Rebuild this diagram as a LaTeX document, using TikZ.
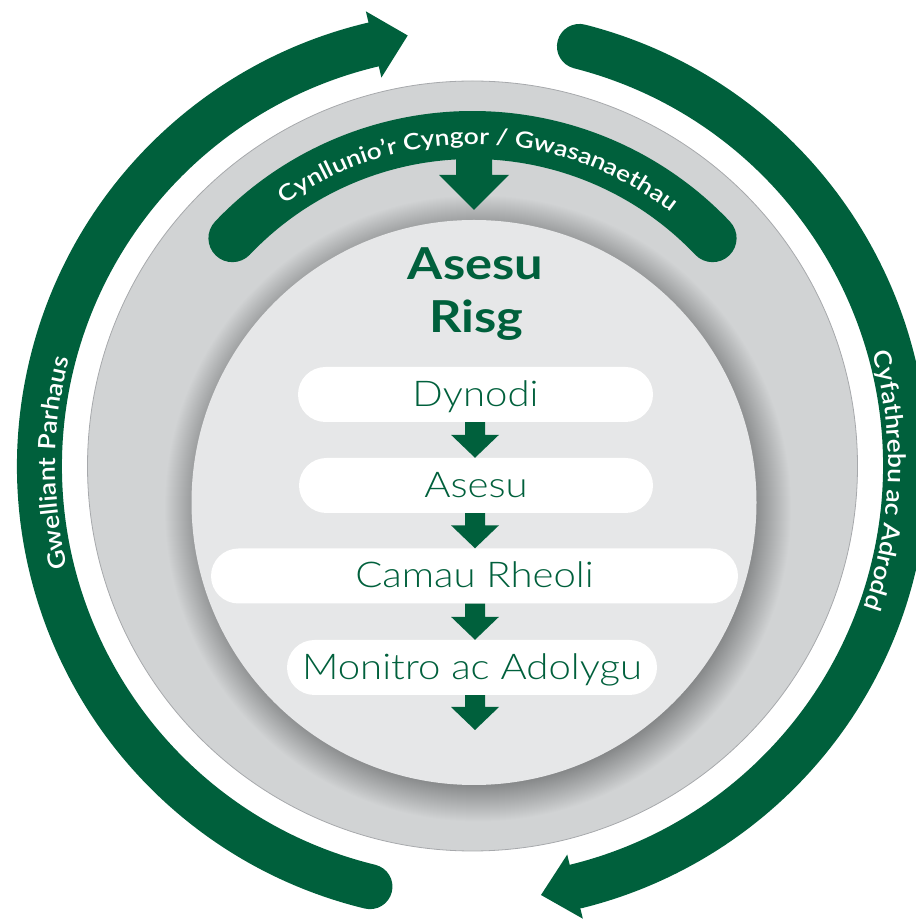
\documentclass[tikz,border=0pt]{standalone}
\usepackage{fontspec}
\setmainfont{Lato}
\newfontfamily\lightf{Lato Light}[FakeStretch=1.13]
\newfontfamily\semif{Lato Semibold}[FakeStretch=1.1]
\newfontfamily\semifw{Lato Semibold}[FakeStretch=1.17]
\newfontfamily\boldf{Lato Bold}[FakeStretch=1.15]
\usetikzlibrary{calc,decorations.text}
\definecolor{grn}{HTML}{00603C}
\definecolor{ring}{HTML}{D1D3D4}
\definecolor{ringedge}{HTML}{A7A9AC}
\definecolor{innerc}{HTML}{E6E7E8}
\newcommand\arcfont{\semif\fontsize{24}{24}\selectfont}
\newcommand\arcfontsm{\semifw\fontsize{22.5}{22.5}\selectfont}
\newcommand\grnarrow[2]{%
  \fill[grn] let \p1=(#1), \p2=(#2) in
    (465,\y1) -- (485,\y1) -- (485,\y2+23) -- (499,\y2+23) -- (475,\y2)
    -- (451,\y2+23) -- (465,\y2+23) -- cycle;}
\begin{document}
\begin{tikzpicture}[x=1pt,y=1pt,
  pill/.style={fill=white, rounded corners=27.5pt, minimum height=55pt,
    inner sep=0pt, text=grn, font=\lightf\fontsize{35.5}{36}\selectfont,
    text height=24pt, text depth=0pt},
  titletxt/.style={text=grn, font=\boldf\fontsize{44}{44}\selectfont, anchor=base, inner sep=0pt},
  bigarc/.style={draw=grn, line width=45pt, line cap=round},
  arctext/.style={decorate, decoration={text along path, text align=center, text color=white}}]
\useasboundingbox (0,0) rectangle (916,919);
\coordinate (C) at (472.5,453);
\coordinate (Ci) at (474,416.5);

% outer grey disc
\fill[ring] (C) circle[radius=385pt];
\draw[ringedge, line width=0.8pt] (C) circle[radius=385pt];
% soft shadow around inner disc
\foreach \i in {0,...,37} {
  \fill[black, opacity=0.0072] ($(Ci)+(4,-6)$) circle[radius={276pt+1pt*\i}];
}
% inner disc
\fill[innerc] (Ci) circle[radius=282.5pt];

% outer arrows
\path[bigarc] ($(C)+(256.3:433pt)$) arc[start angle=256.3, end angle=103.0, radius=433pt];
\fill[grn] ($(C)+(103.2:467pt)$) -- (407.7,883.5) -- ($(C)+(103.2:399pt)$) -- cycle;
\path[bigarc] ($(C)+(75.7:433pt)$) arc[start angle=75.7, end angle=-76.1, radius=433pt];
\fill[grn] ($(C)+(-76.3:466pt)$) -- (541,24) -- ($(C)+(-76.3:400pt)$) -- cycle;

% inner arc
\path[draw=grn, line width=48pt, line cap=round] ($(C)+(43.5:331pt)$) arc[start angle=43.5, end angle=136.5, radius=331pt];
\fill[grn] (456,772) -- (492,772) -- (492,744) -- (509,744) -- (474,709) -- (439,744) -- (456,744) -- cycle;

% texts along arcs
\path[arctext, decoration={text={|\arcfont|Gwelliant Parhaus}}]
  ($(C)+(215:417pt)$) arc[start angle=215, end angle=144.2, radius=417pt];
\path[arctext, decoration={text={|\arcfont|Cyfathrebu ac Adrodd}}]
  ($(C)+(33:416pt)$) arc[start angle=33, end angle=-37, radius=416pt];
\path[arctext, decoration={text={|\arcfontsm|Cynllunio’r Cyngor / Gwasanaethau}}]
  ($(C)+(140:322pt)$) arc[start angle=140, end angle=37.6, radius=322pt];

% title
\node[titletxt] (t1) at (475.5,639) {Asesu};
\node[titletxt] (t2) at (476.5,586) {Risg};

% steps
\node[pill, minimum width=355pt] (p1) at (475.5,524.5) {Dynodi};
\node[pill, minimum width=354pt] (p2) at (476,433.5) {Asesu};
\node[pill, minimum width=527pt] (p3) at (474.5,343) {Camau Rheoli};
\node[pill, minimum width=370pt] (p4) at (472,251.5) {Monitro ac Adolygu};
\coordinate (pend) at (475,189);

\grnarrow{p1.south}{p2.north}
\grnarrow{p2.south}{p3.north}
\grnarrow{p3.south}{p4.north}
\grnarrow{p4.south}{pend}
\end{tikzpicture}
\end{document}
